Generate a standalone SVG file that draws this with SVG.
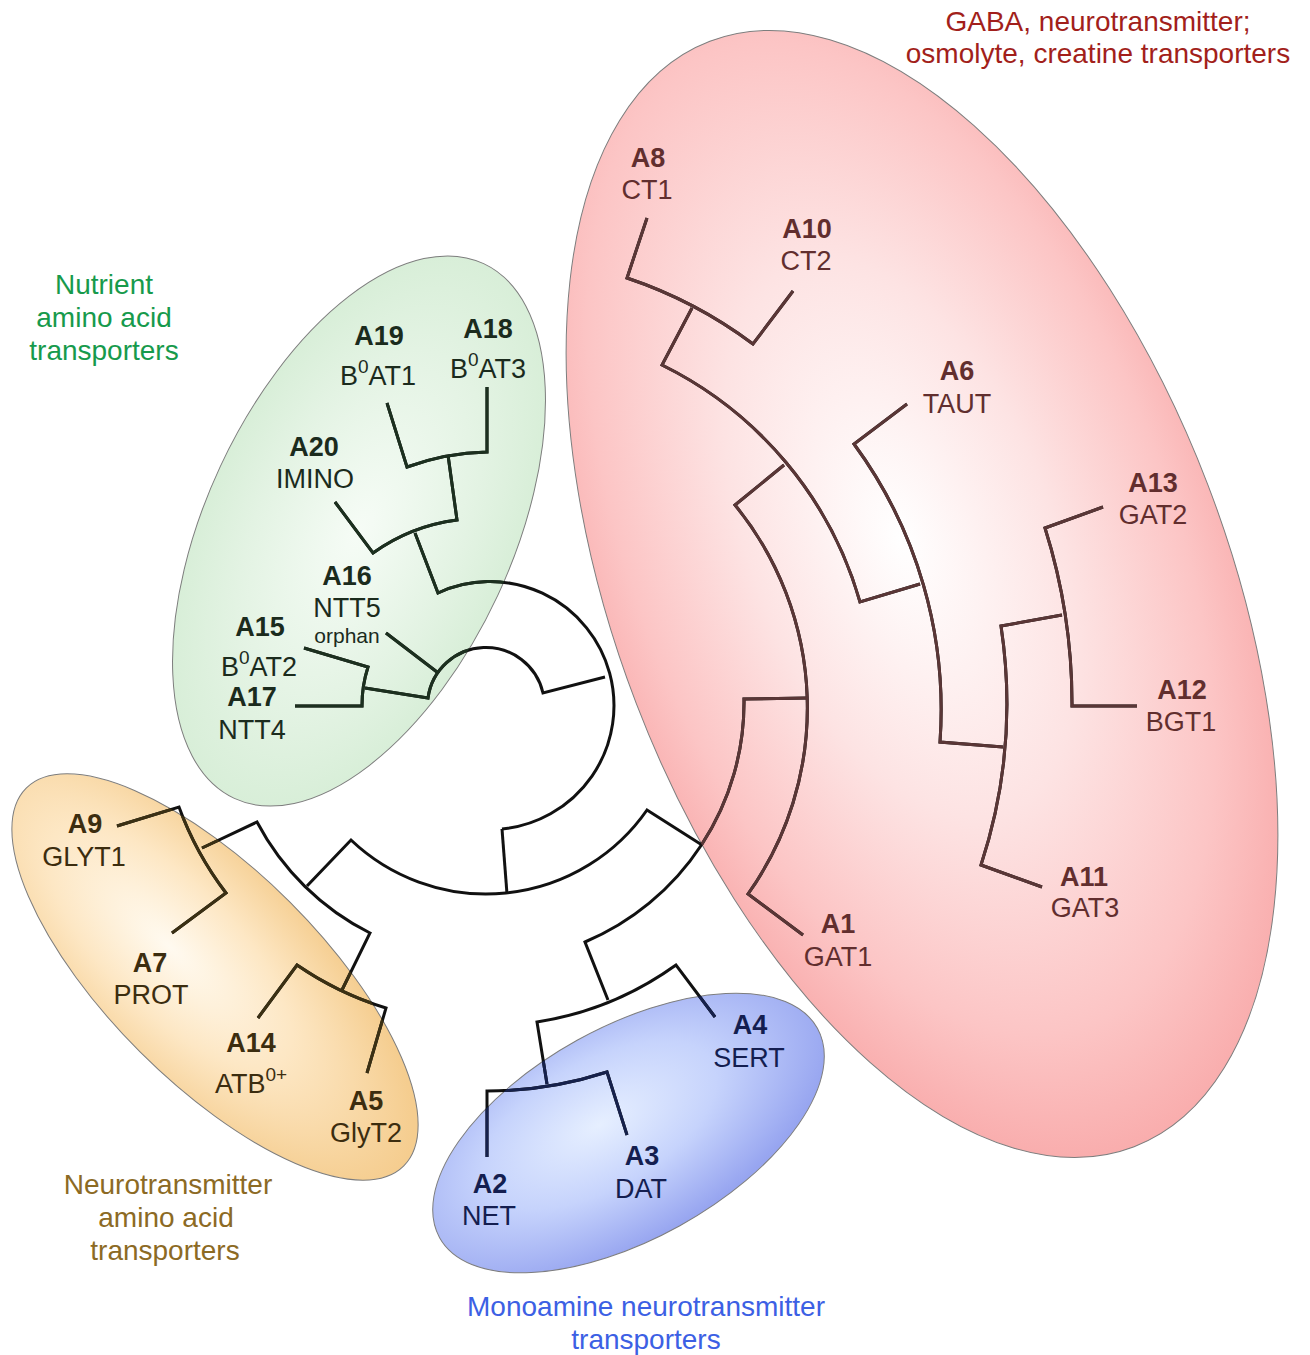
<svg xmlns="http://www.w3.org/2000/svg" xmlns:xlink="http://www.w3.org/1999/xlink" width="1310" height="1355" viewBox="0 0 1310 1355">
<defs>
<style>
.lbl{font-family:"Liberation Sans",Arial,Helvetica,sans-serif;font-size:27px;text-anchor:middle}
.id{font-weight:bold}
.sm{font-size:21px}
.hdr{font-family:"Liberation Sans",Arial,Helvetica,sans-serif;font-size:28px;text-anchor:middle}
.edge{fill:none;stroke-width:3;stroke-linejoin:miter;stroke-linecap:butt}
.zone{stroke:#7d7d7d;stroke-width:1}
.tr{fill:#612e2e}.tg{fill:#1b2b1d}.to{fill:#3c2d0f}.tb{fill:#141e50}
</style>
<radialGradient id="gRed" cx="0.45" cy="0.5" r="0.55">
<stop offset="0" stop-color="#ffffff"/><stop offset="0.45" stop-color="#fde3e3"/><stop offset="0.8" stop-color="#fcc5c5"/><stop offset="1" stop-color="#f9adad"/>
</radialGradient>
<radialGradient id="gGreen" cx="0.5" cy="0.5" r="0.55">
<stop offset="0" stop-color="#f6fcf6"/><stop offset="0.6" stop-color="#e3f3e3"/><stop offset="1" stop-color="#d5edd5"/>
</radialGradient>
<radialGradient id="gOrange" cx="0.4" cy="0.55" r="0.6">
<stop offset="0" stop-color="#fffaf0"/><stop offset="0.5" stop-color="#fde7c4"/><stop offset="1" stop-color="#f5cd8f"/>
</radialGradient>
<radialGradient id="gBlue" cx="0.45" cy="0.4" r="0.6">
<stop offset="0" stop-color="#e6efff"/><stop offset="0.5" stop-color="#c6d3fc"/><stop offset="1" stop-color="#97a5f0"/>
</radialGradient>
<clipPath id="cRed"><ellipse cx="922" cy="594" rx="592" ry="306" transform="rotate(69 922 594)"/></clipPath>
<clipPath id="cGreen"><ellipse cx="359" cy="531" rx="295" ry="153" transform="rotate(-65 359 531)"/></clipPath>
<clipPath id="cOrange"><ellipse cx="215" cy="977" rx="267" ry="106" transform="rotate(45 215 977)"/></clipPath>
<clipPath id="cBlue"><ellipse cx="628.5" cy="1133" rx="216" ry="106" transform="rotate(-29 628.5 1133)"/></clipPath>
</defs>
<rect width="1310" height="1355" fill="#ffffff"/>
<g id="zones" class="zone">
<ellipse id="zone-red" cx="922" cy="594" rx="592" ry="306" transform="rotate(69 922 594)" fill="url(#gRed)"/>
<ellipse id="zone-green" cx="359" cy="531" rx="295" ry="153" transform="rotate(-65 359 531)" fill="url(#gGreen)"/>
<ellipse id="zone-orange" cx="215" cy="977" rx="267" ry="106" transform="rotate(45 215 977)" fill="url(#gOrange)"/>
<ellipse id="zone-blue" cx="628.5" cy="1133" rx="216" ry="106" transform="rotate(-29 628.5 1133)" fill="url(#gBlue)"/>
</g>
<g stroke="#111111">
<g id="connectors" class="edge">
<path d="M307,886 L351,840 A196,196 0 0,0 647,810 L702,845"/>
<path d="M502,829 L507,894"/>
<path d="M202,848 L257,822 A260,260 0 0,0 370,933 L342,990"/>
<path d="M608,1000 L585,942 A260,260 0 0,0 744,699 L808,698"/>
<path d="M415,533 L438,593 A124,124 0 1,1 502,829"/>
<path d="M365,688 L428,698 A58.5,58.5 0 0,1 543,693 L605,677"/>
<path d="M437,672 L386,633"/>
<path d="M304,648 L368,667 A124,124 0 0,0 362,706 L295,706"/>
<path d="M335,502 L373,553 A185,185 0 0,1 457,520 L448,455"/>
<path d="M387,403 L407,467 A249,249 0 0,1 487,452 L487,387"/>
<path d="M117,826 L179,807 A324,324 0 0,0 226,893 L172,933"/>
<path d="M258,1018 L297,965 A323,323 0 0,0 386,1008 L367,1073"/>
<path d="M715,1017 L676,965 A323,323 0 0,1 537,1022 L547,1084"/>
<path d="M487,1157 L487,1091 A388,388 0 0,0 607,1072 L627,1135"/>
<path d="M784,465 L735,505 A321,321 0 0,1 748,894 L803,935"/>
<path d="M692,308 L662,365 A381,381 0 0,1 860,602 L920,584"/>
<path d="M647,218 L627,278 A446,446 0 0,1 753,344 L793,291"/>
<path d="M907,404 L854,444 A449,449 0 0,1 940,742 L1003,747"/>
<path d="M1062,615 L1001,626 A519,519 0 0,1 981,865 L1042,887"/>
<path d="M1103,507 L1045,528 A584,584 0 0,1 1072,706 L1137,706"/>
</g>
</g>
<use xlink:href="#connectors" href="#connectors" stroke="#5a3636" clip-path="url(#cRed)"/>
<use xlink:href="#connectors" href="#connectors" stroke="#1c301f" clip-path="url(#cGreen)"/>
<use xlink:href="#connectors" href="#connectors" stroke="#3b3013" clip-path="url(#cOrange)"/>
<use xlink:href="#connectors" href="#connectors" stroke="#16214c" clip-path="url(#cBlue)"/>
<g id="headers">
<text class="hdr" fill="#a21f1b" x="1098" y="31">GABA, neurotransmitter;</text>
<text class="hdr" fill="#a21f1b" x="1098" y="63">osmolyte, creatine transporters</text>
<text class="hdr" fill="#179a4c" x="104" y="294">Nutrient</text>
<text class="hdr" fill="#179a4c" x="104" y="327">amino acid</text>
<text class="hdr" fill="#179a4c" x="104" y="360">transporters</text>
<text class="hdr" fill="#8c6a24" x="168" y="1194">Neurotransmitter</text>
<text class="hdr" fill="#8c6a24" x="166" y="1227">amino acid</text>
<text class="hdr" fill="#8c6a24" x="165" y="1260">transporters</text>
<text class="hdr" fill="#3c60e4" x="646" y="1316">Monoamine neurotransmitter</text>
<text class="hdr" fill="#3c60e4" x="646" y="1349">transporters</text>
</g>
<g id="node-A8" class="tr"><text class="lbl id" x="648" y="167">A8</text><text class="lbl" x="647" y="199">CT1</text></g>
<g id="node-A10" class="tr"><text class="lbl id" x="807" y="238">A10</text><text class="lbl" x="806" y="270">CT2</text></g>
<g id="node-A6" class="tr"><text class="lbl id" x="957" y="380">A6</text><text class="lbl" x="957" y="413">TAUT</text></g>
<g id="node-A13" class="tr"><text class="lbl id" x="1153" y="492">A13</text><text class="lbl" x="1153" y="524">GAT2</text></g>
<g id="node-A12" class="tr"><text class="lbl id" x="1182" y="699">A12</text><text class="lbl" x="1181" y="731">BGT1</text></g>
<g id="node-A11" class="tr"><text class="lbl id" x="1084" y="886">A11</text><text class="lbl" x="1085" y="917">GAT3</text></g>
<g id="node-A1" class="tr"><text class="lbl id" x="838" y="933">A1</text><text class="lbl" x="838" y="966">GAT1</text></g>
<g id="node-A4" class="tb"><text class="lbl id" x="750" y="1034">A4</text><text class="lbl" x="749" y="1067">SERT</text></g>
<g id="node-A3" class="tb"><text class="lbl id" x="642" y="1165">A3</text><text class="lbl" x="641" y="1198">DAT</text></g>
<g id="node-A2" class="tb"><text class="lbl id" x="490" y="1193">A2</text><text class="lbl" x="489" y="1225">NET</text></g>
<g id="node-A5" class="to"><text class="lbl id" x="366" y="1110">A5</text><text class="lbl" x="366" y="1142">GlyT2</text></g>
<g id="node-A14" class="to"><text class="lbl id" x="251" y="1052">A14</text><text class="lbl" x="251" y="1093">ATB<tspan font-size="19" dy="-12">0+</tspan></text></g>
<g id="node-A7" class="to"><text class="lbl id" x="150" y="972">A7</text><text class="lbl" x="151" y="1004">PROT</text></g>
<g id="node-A9" class="to"><text class="lbl id" x="85" y="833">A9</text><text class="lbl" x="84" y="866">GLYT1</text></g>
<g id="node-A17" class="tg"><text class="lbl id" x="252" y="706">A17</text><text class="lbl" x="252" y="739">NTT4</text></g>
<g id="node-A15" class="tg"><text class="lbl id" x="260" y="636">A15</text><text class="lbl" x="259" y="676">B<tspan font-size="19" dy="-12">0</tspan><tspan dy="12">AT2</tspan></text></g>
<g id="node-A16" class="tg"><text class="lbl id" x="347" y="585">A16</text><text class="lbl" x="347" y="617">NTT5</text><text class="lbl sm" x="347" y="643">orphan</text></g>
<g id="node-A20" class="tg"><text class="lbl id" x="314" y="456">A20</text><text class="lbl" x="315" y="488">IMINO</text></g>
<g id="node-A19" class="tg"><text class="lbl id" x="379" y="345">A19</text><text class="lbl" x="378" y="385">B<tspan font-size="19" dy="-12">0</tspan><tspan dy="12">AT1</tspan></text></g>
<g id="node-A18" class="tg"><text class="lbl id" x="488" y="338">A18</text><text class="lbl" x="488" y="378">B<tspan font-size="19" dy="-12">0</tspan><tspan dy="12">AT3</tspan></text></g>
</svg>
